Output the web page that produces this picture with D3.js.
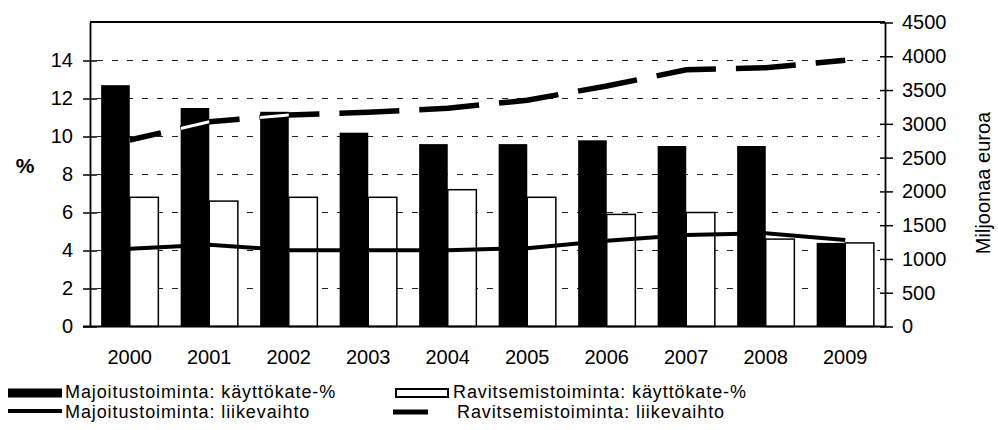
<!DOCTYPE html>
<html>
<head>
<meta charset="utf-8">
<script src="https://cdn.jsdelivr.net/npm/d3@7"></script>
<style>
  body { margin: 0; background: #fff; }
  svg { font-family: "Liberation Sans", Arial, sans-serif; }
</style>
</head>
<body>
<svg id="chart" width="998" height="430"></svg>
<script>
// values
const years = ["2000", "2001", "2002", "2003", "2004", "2005", "2006", "2007", "2008", "2009"];
const majPct = [12.7, 11.5, 11.3, 10.2, 9.6, 9.6, 9.8, 9.5, 9.5, 4.4];   // Majoitustoiminta: käyttökate-%
const ravPct = [6.8, 6.6, 6.8, 6.8, 7.2, 6.8, 5.9, 6.0, 4.6, 4.4];        // Ravitsemistoiminta: käyttökate-%
const majRev = [1150, 1210, 1130, 1130, 1130, 1160, 1270, 1355, 1380, 1280]; // Majoitustoiminta: liikevaihto
const ravRev = [2760, 3030, 3130, 3170, 3230, 3350, 3560, 3800, 3830, 3940]; // Ravitsemistoiminta: liikevaihto
const leftTicks = [0, 2, 4, 6, 8, 10, 12, 14];
const rightTicks = [0, 500, 1000, 1500, 2000, 2500, 3000, 3500, 4000, 4500];
const legendLabels = [
  "Majoitustoiminta: käyttökate-%",
  "Ravitsemistoiminta: käyttökate-%",
  "Majoitustoiminta: liikevaihto",
  "Ravitsemistoiminta: liikevaihto"
];

const svg = d3.select("#chart");
const pLeft = 90, pRight = 885, pTop = 22.5, pBottom = 326.5;

const x0 = d3.scaleBand().domain(years).range([pLeft, pRight]);
const x1 = d3.scaleBand().domain(["maj", "rav"]).range([0, x0.bandwidth()]).paddingOuter(0.39);
const yL = d3.scaleLinear().domain([0, 16]).range([pBottom, pTop]);
const yR = d3.scaleLinear().domain([0, 4500]).range([pBottom, pTop]);

const rows = years.map((y, i) => ({ year: y, maj: majPct[i], rav: ravPct[i], mRev: majRev[i], rRev: ravRev[i] }));

// gridlines
svg.append("g")
  .selectAll("line")
  .data(leftTicks.filter(d => d > 0))
  .enter()
  .append("line")
    .attr("x1", pLeft + 7).attr("x2", pRight - 5)
    .attr("y1", d => yL(d)).attr("y2", d => yL(d))
    .style("stroke", "#222")
    .style("stroke-width", 1)
    .style("stroke-dasharray", "6,9");

// bars
svg.append("g")
  .selectAll("rect")
  .data(rows)
  .enter()
  .append("rect")
    .attr("x", d => x0(d.year) + x1("maj"))
    .attr("y", d => yL(d.maj))
    .attr("width", x1.bandwidth())
    .attr("height", d => pBottom - yL(d.maj))
    .style("fill", "#000");

svg.append("g")
  .selectAll("rect")
  .data(rows)
  .enter()
  .append("rect")
    .attr("x", d => x0(d.year) + x1("rav"))
    .attr("y", d => yL(d.rav))
    .attr("width", x1.bandwidth())
    .attr("height", d => pBottom - yL(d.rav))
    .style("fill", "#fff")
    .style("stroke", "#000")
    .style("stroke-width", 1.5);

// clip of the black bars, for the white part of the dashed line
svg.append("clipPath").attr("id", "blackBars")
  .selectAll("rect")
  .data(rows)
  .enter()
  .append("rect")
    .attr("x", d => x0(d.year) + x1("maj"))
    .attr("y", d => yL(d.maj))
    .attr("width", x1.bandwidth())
    .attr("height", d => pBottom - yL(d.maj));

const cx = d => x0(d.year) + x0.bandwidth() / 2;
const lineMaj = d3.line().x(cx).y(d => yR(d.mRev));
const lineRav = d3.line().x(cx).y(d => yR(d.rRev));

svg.append("path")
  .attr("d", lineMaj(rows))
  .style("fill", "none")
  .style("stroke", "#000")
  .style("stroke-width", 4);

svg.append("path")
  .attr("d", lineRav(rows))
  .style("fill", "none")
  .style("stroke", "#000")
  .style("stroke-width", 5.5)
  .style("stroke-dasharray", "60,20")
  .style("stroke-dashoffset", 28);

svg.append("path")
  .attr("d", lineRav(rows))
  .attr("clip-path", "url(#blackBars)")
  .style("fill", "none")
  .style("stroke", "#fff")
  .style("stroke-width", 3)
  .style("stroke-dasharray", "60,20")
  .style("stroke-dashoffset", 28);

// axes
const axisL = svg.append("g")
  .attr("transform", `translate(${pLeft},0)`)
  .call(d3.axisLeft(yL).tickValues(leftTicks).tickSize(7).tickSizeOuter(0).tickPadding(10));
axisL.selectAll(".tick").append("line").attr("x2", 7).attr("stroke", "currentColor");

const axisR = svg.append("g")
  .attr("transform", `translate(${pRight},0)`)
  .call(d3.axisRight(yR).tickValues(rightTicks).tickFormat(d3.format("d"))
    .tickSize(8).tickSizeOuter(0).tickPadding(9));
axisR.selectAll(".tick").append("line").attr("x2", -5).attr("stroke", "currentColor");

const axisB = svg.append("g")
  .attr("transform", `translate(0,${pBottom})`)
  .call(d3.axisBottom(x0).tickSize(0).tickSizeOuter(0).tickPadding(23));

[axisL, axisR, axisB].forEach(a => {
  a.attr("font-family", null);
  a.selectAll("text").style("font-size", "20px").style("fill", "#000");
  a.selectAll("line").style("stroke-width", 1.5);
  a.select(".domain").style("stroke-width", 1.8);
});
axisB.select(".domain").attr("d", `M${pLeft - 7},0H${pRight}`);

// top border
svg.append("line")
  .attr("x1", pLeft).attr("x2", pRight)
  .attr("y1", pTop - 0.5).attr("y2", pTop - 0.5)
  .style("stroke", "#000").style("stroke-width", 1.8);

// axis titles
svg.append("text")
  .attr("x", 25).attr("y", 173)
  .attr("text-anchor", "middle")
  .style("font-size", "21px").style("font-weight", "bold")
  .text("%");

svg.append("text")
  .attr("transform", "translate(990,183) rotate(-90)")
  .attr("text-anchor", "middle")
  .style("font-size", "20px")
  .text("Miljoonaa euroa");

// legend
const lg = svg.append("g");
lg.append("rect").attr("x", 8).attr("y", 388.5).attr("width", 54).attr("height", 9).style("fill", "#000");
lg.append("rect").attr("x", 396).attr("y", 389).attr("width", 52).attr("height", 8)
  .style("fill", "#fff").style("stroke", "#000").style("stroke-width", 2);
lg.append("line").attr("x1", 8).attr("x2", 62).attr("y1", 411).attr("y2", 411)
  .style("stroke", "#000").style("stroke-width", 4);
lg.append("line").attr("x1", 393).attr("x2", 428).attr("y1", 412).attr("y2", 412)
  .style("stroke", "#000").style("stroke-width", 5);

const legendPos = [[65, 398], [453, 398], [65, 418], [457, 418]];
lg.selectAll("text")
  .data(legendLabels)
  .enter()
  .append("text")
    .attr("x", (d, i) => legendPos[i][0])
    .attr("y", (d, i) => legendPos[i][1])
    .style("font-size", "18px")
    .style("letter-spacing", "0.9px")
    .text(d => d);
</script>
</body>
</html>
